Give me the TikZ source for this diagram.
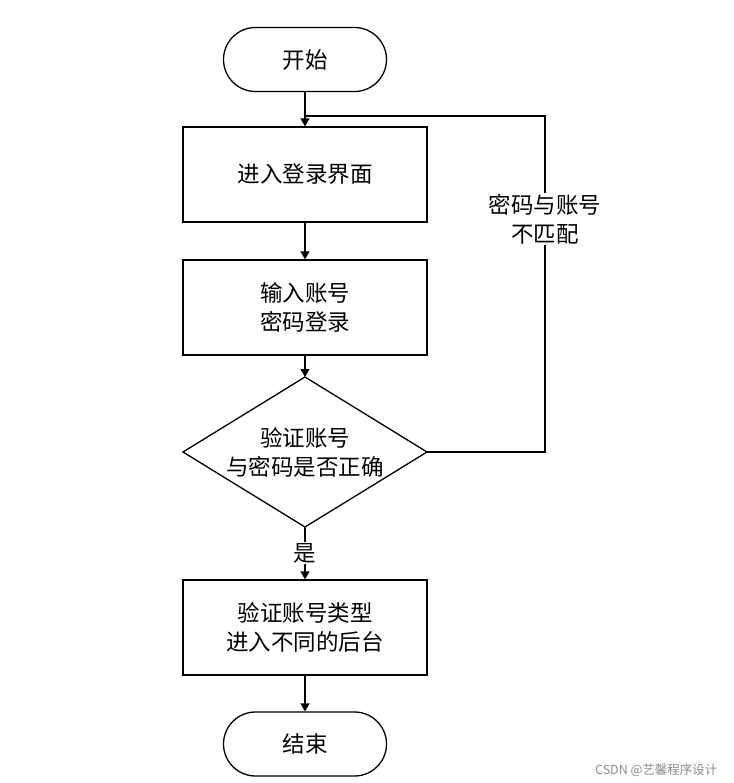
\documentclass[tikz,border=0pt]{standalone}
\usepackage{fontspec}
\newfontfamily\cjk{Noto Sans CJK SC}
\usetikzlibrary{arrows.meta}
\begin{document}
\begin{tikzpicture}[x=1pt,y=-1pt,
  every node/.style={font=\cjk\fontsize{22.5}{29}\selectfont},
  line/.style={line width=1.3pt},
  arr/.style={line width=1.3pt,-{Triangle[width=9pt,length=8pt]}},
  proc/.style={draw,line width=1.3pt,minimum width=244pt,minimum height=95pt,align=center,inner sep=0pt},
  term/.style={draw,line width=1.3pt,rounded corners=32pt,minimum width=163pt,minimum height=64pt,inner sep=0pt},
  txt/.style={align=center,inner sep=0pt}]
\useasboundingbox (0,0) rectangle (733,783);
\node[term] (start) at (305,59.5) {开始};
\node[proc] (b1) at (305,174.5) {进入登录界面};
\node[proc] (b2) at (305,307.5) {输入账号\\密码登录};
\coordinate (dt) at (305,377);
\coordinate (dr) at (427,452);
\coordinate (db) at (305,527);
\coordinate (dl) at (183,452);
\draw[line,line join=miter] (dt) -- (dr) -- (db) -- (dl) -- cycle;
\node[txt] (d) at (305,452) {验证账号\\与密码是否正确};
\node[proc] (b3) at (305,627.5) {验证账号类型\\进入不同的后台};
\node[term] (end) at (305,744) {结束};
\coordinate (j) at (305,116);
\coordinate (c1) at (545,452);
\coordinate (c2) at (545,116);
\draw[arr] (start) -- (b1);
\draw[arr] (b1) -- (b2);
\draw[arr] (b2) -- (dt);
\draw[line] (dr) -- (c1) -- (c2) -- (j);
\node[fill=white,align=center,inner sep=1pt] (lab) at (545,219) {密码与账号\\不匹配};
\draw[arr] (db) -- node[fill=white,inner sep=1pt] (yes) {是} (b3);
\draw[arr] (b3) -- (end);
\node[font=\fontsize{12.5}{14}\selectfont\cjk,text=black!45,anchor=east] (wm) at (721,770) {CSDN @艺馨程序设计};
\end{tikzpicture}
\end{document}
